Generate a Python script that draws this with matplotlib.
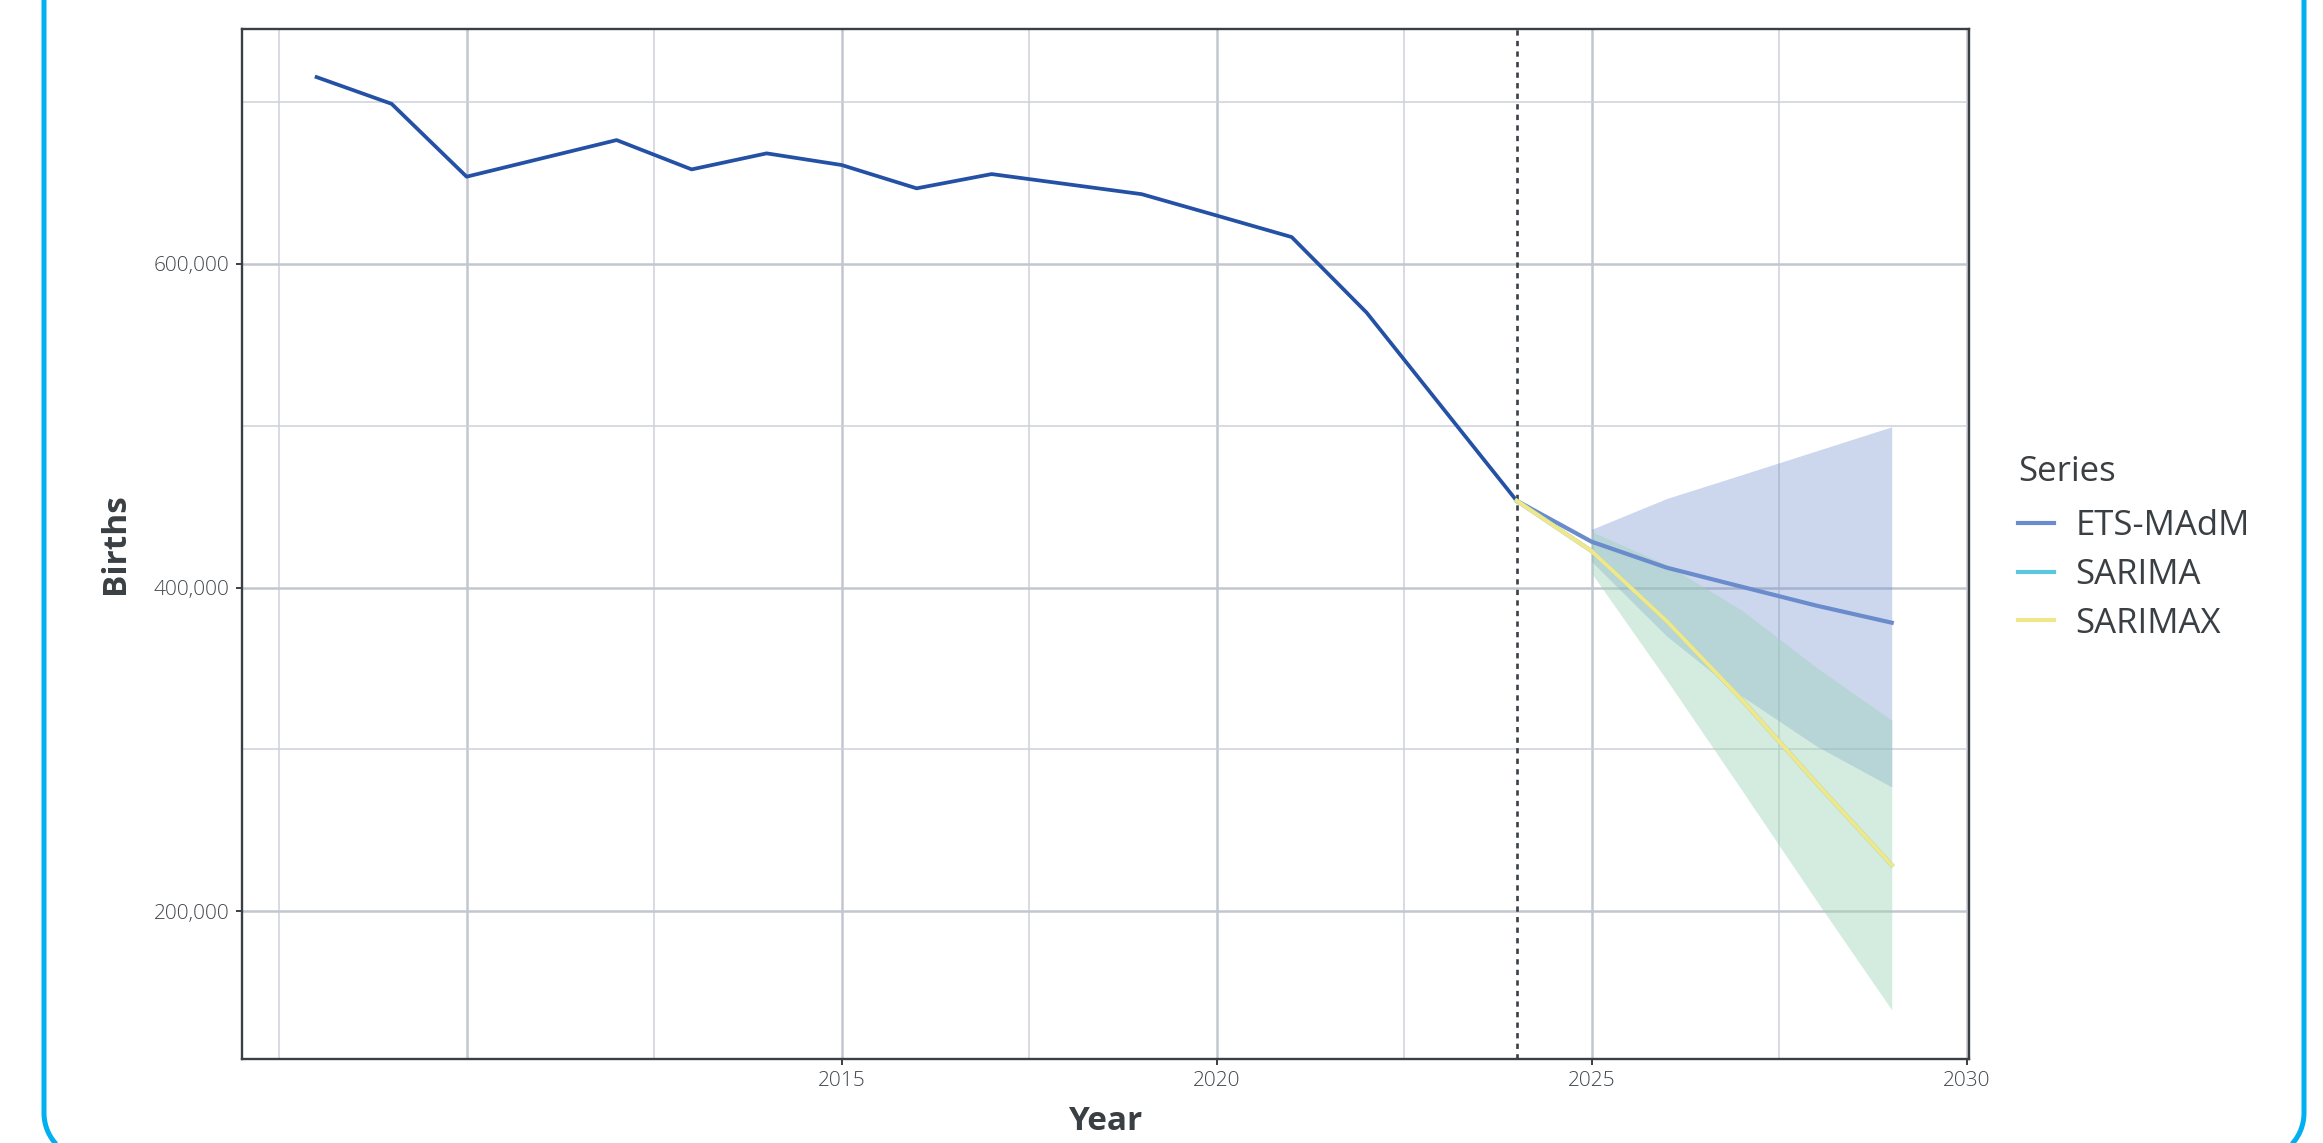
import numpy as np
import matplotlib.pyplot as plt
from matplotlib.ticker import FuncFormatter

plt.rcParams['font.family'] = ['Open Sans', 'DejaVu Sans']

# observed births per year (2011 has no point)
hist_years = [2008, 2009, 2010, 2012, 2013, 2014, 2015, 2016, 2017, 2018,
              2019, 2020, 2021, 2022, 2023, 2024]
hist_births = [715300, 698800, 653800, 676400, 658300, 668200, 661000, 646600,
               655400, 649200, 643000, 629800, 616500, 569800, 511700, 453600]

# forecasts start at the last observed year
fc_years = [2024, 2025, 2026, 2027, 2028, 2029]
band_years = [2025, 2026, 2027, 2028, 2029]

ets_mean = [453600, 428300, 412300, 400500, 388800, 378300]
ets_lo = [416000, 370000, 333000, 302000, 276800]
ets_hi = [436000, 455000, 469700, 484500, 499300]

sarima_mean = [453600, 422500, 379300, 330800, 279000, 228600]
sarima_lo = [408800, 342900, 275000, 206400, 139200]
sarima_hi = [434500, 414000, 386000, 350500, 318000]

sarimax_mean = [453600, 422500, 379300, 330800, 279000, 228600]
sarimax_lo = [408800, 342900, 275000, 206400, 139200]
sarimax_hi = [434500, 414000, 386000, 350500, 318000]

series_names = ['ETS-MAdM', 'SARIMA', 'SARIMAX']
series_colors = ['#6a8bcc', '#5cc8e0', '#f0e68a']
band_alpha = [0.34, 0.30, 0.20]

hist_color = '#2451a6'
dark = '#3a3f44'
grid_major = '#c2c6ce'
grid_minor = '#cdd1d8'

W, H = 2323, 1143

fig = plt.figure(figsize=(W / 100, H / 100), dpi=100)
fig.patch.set_facecolor('white')

# rounded blue card border, top edge runs off the image (pixel coords, y up)
bg = fig.add_axes([0, 0, 1, 1], zorder=0)
bg.set_xlim(0, W)
bg.set_ylim(0, H)
bg.axis('off')
r = 46
xl, xr, yb = 44, 2304, -16
t = np.linspace(0, np.pi / 2, 40)
left_x = np.concatenate([[xl, xl], xl + r - r * np.cos(t)])
left_y = np.concatenate([[H + 10, yb + r], yb + r - r * np.sin(t)])
right_x = np.concatenate([xr - r + r * np.sin(t), [xr, xr]])
right_y = np.concatenate([yb + r - r * np.cos(t), [yb + r, H + 10]])
for px, py in [(left_x, left_y), (right_x, right_y)]:
    bg.plot(px, py, color='#00b0f0', linewidth=3.6, solid_capstyle='butt')

ax = fig.add_axes([0.104, 0.0735, 0.7436, 0.9011], zorder=1)
ax.set_facecolor('white')

# bands
bands = [(ets_lo, ets_hi), (sarima_lo, sarima_hi), (sarimax_lo, sarimax_hi)]
for (lo, hi), col, a in zip(bands, series_colors, band_alpha):
    ax.fill_between(band_years, lo, hi, color=col, alpha=a, linewidth=0, zorder=2)

ax.plot(hist_years, hist_births, color=hist_color, linewidth=2.7, zorder=4)

means = [ets_mean, sarima_mean, sarimax_mean]
for m, col, name in zip(means, series_colors, series_names):
    ax.plot(fc_years, m, color=col, linewidth=3.0, label=name, zorder=5)

ax.axvline(2024, color=dark, linewidth=1.9, linestyle=(0, (2, 2)), zorder=3)

ax.set_xlim(2007.0, 2030.03)
ax.set_ylim(108800, 745000)

ax.set_xticks([2010, 2015, 2020, 2025, 2030])
ax.set_xticklabels(['', '2015', '2020', '2025', '2030'])
ax.xaxis.get_major_ticks()[0].tick1line.set_visible(False)
ax.set_xticks([2007.5, 2012.5, 2017.5, 2022.5, 2027.5], minor=True)
ax.set_yticks([200000, 400000, 600000])
ax.set_yticks([300000, 500000, 700000], minor=True)
ax.yaxis.set_major_formatter(FuncFormatter(lambda v, p: f'{int(v):,}'))

ax.grid(which='major', color=grid_major, linewidth=1.8, zorder=0)
ax.grid(which='minor', color=grid_minor, linewidth=1.1, zorder=0)
ax.set_axisbelow(True)

ax.tick_params(which='major', length=4.5, width=1.4, color=dark,
               labelsize=15, labelcolor='#42474d', pad=4)
ax.tick_params(which='minor', length=0)
for lbl in ax.get_xticklabels() + ax.get_yticklabels():
    lbl.set_fontweight('light')

for sp in ax.spines.values():
    sp.set_color(dark)
    sp.set_linewidth(1.7)

ax.set_xlabel('Year', fontsize=24, fontweight='bold', color=dark, labelpad=10)
ax.set_ylabel('Births', fontsize=24, fontweight='bold', color=dark, labelpad=16)

leg = ax.legend(title='Series', loc='upper left',
                bbox_to_anchor=(2018 / W, 1 - 455 / H),
                bbox_transform=fig.transFigure, frameon=False,
                fontsize=25, title_fontsize=25, alignment='left',
                handlelength=1.05, handletextpad=0.6, labelspacing=0.42,
                borderpad=0, borderaxespad=0)
leg._legend_box.sep = 14.7
for txt in leg.get_texts():
    txt.set_color(dark)
leg.get_title().set_color(dark)
for h in leg.get_lines():
    h.set_linewidth(3.0)

fig.savefig('out.png', dpi=100)
